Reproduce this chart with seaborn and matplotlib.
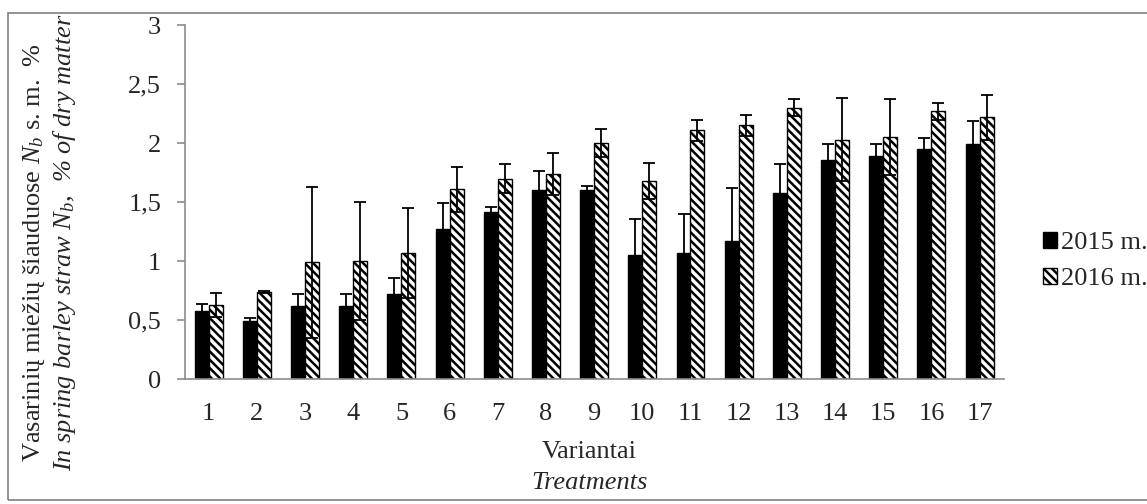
import numpy as np
import pandas as pd
import matplotlib.pyplot as plt
import seaborn as sns
from matplotlib.patches import Rectangle

# =========================
# DATA
# =========================
treatments = [str(i) for i in range(1, 18)]
years = ["2015 m.", "2016 m."]

n_2015 = [0.58, 0.49, 0.62, 0.62, 0.72, 1.27, 1.42, 1.60, 1.60, 1.05, 1.07, 1.17, 1.58, 1.86, 1.89, 1.95, 1.99]
n_2016 = [0.63, 0.74, 0.99, 1.00, 1.07, 1.61, 1.70, 1.74, 2.00, 1.68, 2.11, 2.15, 2.30, 2.03, 2.05, 2.27, 2.22]

err_2015 = [0.06, 0.03, 0.10, 0.10, 0.14, 0.22, 0.04, 0.16, 0.04, 0.31, 0.33, 0.45, 0.24, 0.13, 0.10, 0.09, 0.20]
err_2016 = [0.10, 0.01, 0.64, 0.50, 0.38, 0.19, 0.12, 0.18, 0.12, 0.15, 0.09, 0.09, 0.07, 0.35, 0.32, 0.07, 0.19]

df = pd.DataFrame({
    "Variantai": treatments * 2,
    "Metai": [years[0]] * 17 + [years[1]] * 17,
    "N": n_2015 + n_2016,
})

# =========================
# STYLE
# =========================
sns.set_style("white")
plt.rcParams["font.family"] = ["Liberation Serif", "DejaVu Serif"]
plt.rcParams["mathtext.fontset"] = "custom"
plt.rcParams["mathtext.rm"] = "Liberation Serif"
plt.rcParams["mathtext.it"] = "Liberation Serif:italic"
plt.rcParams["hatch.linewidth"] = 1.8
plt.rcParams["hatch.color"] = "black"

FS = 19

fig = plt.figure(figsize=(11.47, 5.04), dpi=100)
ax = fig.add_axes([0.161, 0.248, 0.714, 0.702])

sns.barplot(data=df, x="Variantai", y="N", hue="Metai", order=treatments,
            hue_order=years, palette=["black", "white"], width=0.58,
            edgecolor="black", linewidth=1.0, errorbar=None, ax=ax, legend=False)

# hatch on 2016 bars
for p in ax.containers[1]:
    p.set_hatch("\\\\\\\\")

# error bars
for cont, errs in zip(ax.containers, [err_2015, err_2016]):
    xs = [p.get_x() + p.get_width() / 2 for p in cont]
    hs = [p.get_height() for p in cont]
    ax.errorbar(xs, hs, yerr=errs, fmt="none", ecolor="black",
                elinewidth=1.3, capsize=4.5, capthick=1.3, zorder=5)

ax.set_ylim(0, 3)
ax.set_yticks([0, 0.5, 1, 1.5, 2, 2.5, 3])
ax.set_yticklabels(["0", "0,5", "1", "1,5", "2", "2,5", "3"])
ax.set_xlim(-0.5, 16.5)

for s in ["top", "right"]:
    ax.spines[s].set_visible(False)
for s in ["left", "bottom"]:
    ax.spines[s].set_color("#8c8c8c")
    ax.spines[s].set_linewidth(1.2)

ax.tick_params(axis="y", left=True, length=6, width=1.2, color="#8c8c8c",
               labelsize=FS, pad=11)
ax.tick_params(axis="x", bottom=False, labelsize=FS, pad=14)
ax.set_xlabel("")
ax.set_ylabel("")

# axis titles
fig.text(0.030, 0.498, "Vasarinių miežių šiauduose $N_b$ s. m.  %",
         rotation=90, ha="center", va="center", fontsize=FS)
fig.text(0.056, 0.52, "In spring barley straw $N_b$,  % of dry matter",
         rotation=90, ha="center", va="center", fontsize=FS, style="italic")
fig.text(0.514, 0.103, "Variantai", ha="center", va="center", fontsize=FS)
fig.text(0.514, 0.042, "Treatments", ha="center", va="center", fontsize=FS,
         style="italic")

# legend
handles = [ax.containers[0][0], ax.containers[1][0]]
fig.legend(handles, years, loc="center left", bbox_to_anchor=(0.9, 0.482),
           frameon=False, fontsize=FS, handlelength=0.55, handleheight=0.55,
           handletextpad=0.15, labelspacing=0.5, borderaxespad=0)

# outer border
fig.patches.append(Rectangle((0.007, 0.008), 1.2, 0.967, transform=fig.transFigure,
                             fill=False, edgecolor="#7f7f7f", linewidth=1.2))

fig.savefig("out.png", dpi=100)
